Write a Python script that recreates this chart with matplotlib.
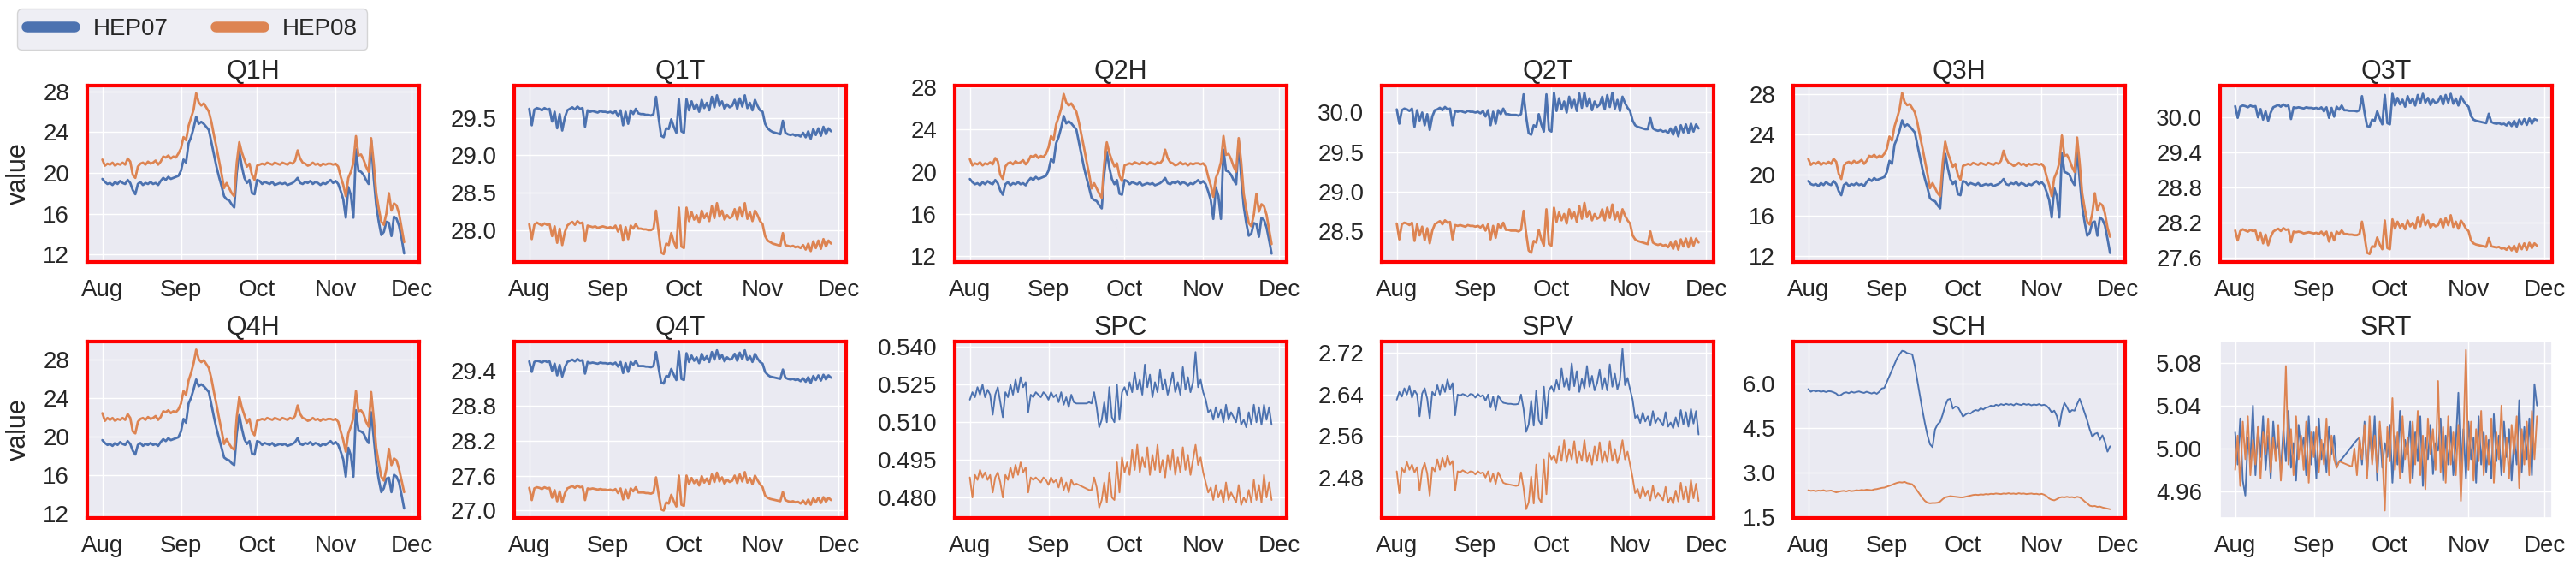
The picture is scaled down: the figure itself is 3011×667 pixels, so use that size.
import numpy as np
import pandas as pd
import matplotlib
matplotlib.use("Agg")
import matplotlib.pyplot as plt
import matplotlib.dates as mdates
from matplotlib.lines import Line2D
from matplotlib.ticker import FormatStrFormatter
import seaborn as sns

sns.set_theme(style="darkgrid")
plt.rcParams["font.family"] = ["Liberation Sans", "DejaVu Sans"]
plt.rcParams["xtick.major.size"] = 0
plt.rcParams["ytick.major.size"] = 0
plt.rcParams["xtick.major.pad"] = 15
plt.rcParams["ytick.major.pad"] = 15

# daily samples, Aug 1 .. Nov 28
days = pd.date_range("2021-08-01", "2021-11-28", freq="D")
series_names = ["HEP07", "HEP08"]
panel_names = ["Q1H", "Q1T", "Q2H", "Q2T", "Q3H", "Q3T",
               "Q4H", "Q4T", "SPC", "SPV", "SCH", "SRT"]

q1h_hep07 = [19.4, 19.1, 18.9, 19.0, 18.8, 19.1, 18.9, 19.2, 19.0, 18.9,
             19.3, 19.0, 18.3, 17.9, 18.9, 19.1, 18.8, 19.0, 18.9, 19.1,
             18.9, 19.0, 18.8, 19.2, 19.5, 19.3, 19.6, 19.4, 19.5, 19.6,
             19.7, 20.2, 21.3, 21.0, 22.9, 23.5, 24.4, 25.5, 24.8, 25.0,
             24.8, 24.5, 24.2, 23.0, 21.8, 20.6, 19.6, 18.7, 17.7, 17.4,
             17.3, 16.9, 16.6, 20.0, 22.1, 20.6, 19.5, 19.0, 19.3, 18.0,
             17.9, 19.3, 19.2, 18.9, 19.1, 19.0, 18.9, 19.1, 18.8, 18.9,
             19.0, 18.9, 19.0, 18.8, 18.9, 19.0, 19.2, 19.5, 19.0, 18.9,
             19.1, 19.0, 19.2, 18.9, 19.1, 19.0, 18.8, 19.0, 18.9, 19.1,
             19.3, 19.0, 19.2, 18.9, 18.2, 17.4, 15.6, 18.6, 17.8, 15.6,
             22.3, 20.2, 20.1, 19.8, 19.3, 18.9, 23.2, 19.5, 16.8, 15.2,
             13.9, 14.2, 15.2, 15.1, 13.8, 15.7, 15.5, 14.8, 13.6, 12.1]
q1h_hep08 = [21.3, 20.7, 20.9, 20.8, 21.0, 20.7, 20.9, 20.8, 21.0, 20.8,
             21.4, 21.1, 19.8, 19.5, 20.6, 20.9, 21.0, 20.8, 21.1, 20.9,
             21.0, 21.2, 20.8, 21.1, 21.6, 21.5, 21.7, 21.4, 21.6, 21.5,
             21.9, 22.4, 23.5, 23.2, 24.6, 25.4, 26.2, 27.8, 26.9, 26.6,
             26.8, 26.4, 26.0, 25.0, 23.7, 22.5, 21.2, 19.9, 18.5, 19.0,
             18.5, 18.0, 17.7, 21.0, 23.0, 22.0, 21.3, 20.6, 20.9, 19.8,
             19.3, 20.7, 20.8, 20.9, 20.8, 21.0, 20.9, 20.8, 21.0, 20.9,
             20.8, 21.0, 20.9, 20.8, 21.0, 20.9, 21.2, 22.2, 21.4, 21.0,
             20.9, 20.7, 20.8, 21.0, 20.8, 20.9, 20.7, 20.9, 20.8, 20.9,
             20.9, 20.8, 20.9, 20.6, 19.6, 18.8, 17.7, 19.5, 20.1, 21.0,
             23.6, 21.7, 21.8, 21.3, 20.6, 20.1, 23.4, 21.0, 18.0, 16.5,
             15.2, 14.9, 16.0, 18.0, 16.3, 17.0, 16.8, 16.0, 14.6, 13.2]

q1t_hep07 = [29.62, 29.40, 29.61, 29.63, 29.62, 29.60, 29.63, 29.61, 29.62, 29.45,
             29.58, 29.36, 29.55, 29.33, 29.50, 29.60, 29.62, 29.64, 29.61, 29.65,
             29.62, 29.63, 29.38, 29.60, 29.58, 29.59, 29.58, 29.57, 29.59, 29.58,
             29.58, 29.57, 29.58, 29.56, 29.59, 29.52, 29.60, 29.40, 29.58, 29.42,
             29.60, 29.55, 29.62, 29.56, 29.55, 29.55, 29.54, 29.54, 29.53, 29.55,
             29.78, 29.50, 29.26, 29.24, 29.36, 29.35, 29.48, 29.38, 29.30, 29.75,
             29.32, 29.30, 29.75, 29.60, 29.72, 29.62, 29.68, 29.58, 29.74, 29.63,
             29.70, 29.60, 29.78, 29.64, 29.80, 29.66, 29.72, 29.62, 29.68, 29.64,
             29.66, 29.74, 29.62, 29.76, 29.65, 29.80, 29.63, 29.70, 29.60, 29.74,
             29.66, 29.60, 29.58, 29.42, 29.36, 29.33, 29.31, 29.30, 29.29, 29.28,
             29.46, 29.30, 29.28, 29.27, 29.28, 29.26, 29.27, 29.25, 29.30, 29.24,
             29.32, 29.22, 29.35, 29.27, 29.36, 29.26, 29.38, 29.28, 29.36, 29.32]
q1t_hep08 = [28.08, 27.88, 28.07, 28.10, 28.08, 28.06, 28.09, 28.07, 28.08, 27.92,
             28.05, 27.83, 28.02, 27.80, 27.97, 28.06, 28.09, 28.11, 28.07, 28.12,
             28.09, 28.10, 27.85, 28.06, 28.05, 28.04, 28.05, 28.03, 28.04, 28.05,
             28.04, 28.03, 28.04, 28.02, 28.06, 27.98, 28.06, 27.86, 28.04, 27.88,
             28.06, 28.02, 28.08, 28.02, 28.02, 28.01, 28.01, 28.00, 28.00, 28.02,
             28.26, 27.98, 27.70, 27.68, 27.82, 27.80, 27.96, 27.84, 27.76, 28.30,
             27.78, 27.76, 28.30, 28.12, 28.24, 28.14, 28.20, 28.10, 28.26, 28.16,
             28.22, 28.12, 28.32, 28.16, 28.36, 28.18, 28.26, 28.14, 28.20, 28.16,
             28.18, 28.28, 28.14, 28.30, 28.18, 28.36, 28.15, 28.24, 28.12, 28.26,
             28.20, 28.12, 28.08, 27.92, 27.86, 27.84, 27.82, 27.81, 27.80, 27.79,
             27.96, 27.80, 27.79, 27.78, 27.79, 27.77, 27.78, 27.76, 27.80, 27.74,
             27.82, 27.72, 27.85, 27.76, 27.86, 27.75, 27.88, 27.78, 27.86, 27.82]

q2h_hep07 = [19.3, 19.0, 18.8, 18.9, 18.7, 19.0, 18.8, 19.1, 18.9, 18.8,
             19.2, 18.9, 18.2, 17.8, 18.8, 19.0, 18.7, 18.9, 18.8, 19.0,
             18.8, 18.9, 18.7, 19.1, 19.4, 19.2, 19.5, 19.3, 19.4, 19.5,
             19.6, 20.1, 21.2, 20.9, 22.7, 23.3, 24.2, 25.3, 24.6, 24.8,
             24.6, 24.3, 24.0, 22.8, 21.6, 20.4, 19.4, 18.5, 17.5, 17.3,
             17.2, 16.8, 16.5, 19.8, 21.9, 20.4, 19.3, 18.8, 19.2, 17.9,
             17.8, 19.2, 19.1, 18.8, 19.0, 18.9, 18.8, 19.0, 18.7, 18.8,
             18.9, 18.8, 18.9, 18.7, 18.8, 18.9, 19.1, 19.4, 18.9, 18.8,
             19.0, 18.9, 19.1, 18.8, 19.0, 18.9, 18.7, 18.9, 18.8, 19.0,
             19.2, 18.9, 19.1, 18.8, 18.1, 17.3, 15.5, 18.5, 17.7, 15.5,
             22.1, 20.1, 20.0, 19.7, 19.2, 18.8, 22.9, 19.4, 16.7, 15.1,
             13.9, 14.1, 15.1, 15.0, 13.8, 15.6, 15.4, 14.7, 13.5, 12.2]
q2h_hep08 = [21.2, 20.6, 20.8, 20.7, 20.9, 20.6, 20.8, 20.7, 20.9, 20.7,
             21.3, 21.0, 19.7, 19.3, 20.5, 20.8, 20.9, 20.7, 21.0, 20.8,
             20.9, 21.1, 20.7, 21.0, 21.5, 21.4, 21.6, 21.3, 21.5, 21.4,
             21.7, 22.3, 23.4, 23.0, 24.5, 25.2, 26.0, 27.4, 26.6, 26.3,
             26.5, 26.1, 25.7, 24.7, 23.5, 22.3, 21.0, 19.8, 18.4, 18.9,
             18.4, 17.9, 17.5, 20.8, 22.8, 21.8, 21.1, 20.5, 20.8, 19.6,
             19.1, 20.6, 20.7, 20.8, 20.7, 20.9, 20.8, 20.7, 20.9, 20.8,
             20.7, 20.9, 20.8, 20.7, 20.9, 20.8, 21.1, 22.1, 21.3, 20.9,
             20.8, 20.6, 20.7, 20.9, 20.7, 20.8, 20.6, 20.8, 20.7, 20.8,
             20.8, 20.7, 20.8, 20.5, 19.5, 18.7, 17.6, 19.4, 20.0, 20.9,
             23.4, 21.6, 21.7, 21.2, 20.5, 20.0, 23.2, 20.9, 17.9, 16.4,
             15.1, 14.8, 15.9, 17.9, 16.2, 16.9, 16.7, 15.9, 14.5, 13.1]

q2t_hep07 = [30.04, 29.86, 30.03, 30.05, 30.04, 30.02, 30.05, 29.82, 30.03, 29.90,
             30.00, 29.84, 29.98, 29.78, 29.95, 30.03, 30.04, 30.06, 30.03, 30.07,
             30.04, 30.05, 29.84, 30.02, 30.01, 30.02, 30.01, 30.00, 30.02, 30.01,
             30.01, 30.00, 30.01, 29.99, 30.02, 29.95, 30.03, 29.84, 30.01, 29.86,
             30.03, 29.98, 30.05, 29.98, 29.98, 29.97, 29.97, 29.97, 29.96, 29.98,
             30.23, 29.95, 29.74, 29.72, 29.84, 29.82, 29.98, 29.85, 29.76, 30.23,
             29.78, 29.76, 30.25, 30.02, 30.18, 30.04, 30.14, 30.00, 30.20, 30.06,
             30.16, 30.02, 30.24, 30.06, 30.25, 30.08, 30.18, 30.03, 30.14, 30.07,
             30.10, 30.20, 30.04, 30.22, 30.07, 30.25, 30.05, 30.16, 30.02, 30.20,
             30.12, 30.06, 30.02, 29.90, 29.84, 29.82, 29.81, 29.80, 29.79, 29.79,
             29.93, 29.80, 29.78, 29.77, 29.78, 29.76, 29.77, 29.74, 29.80, 29.72,
             29.82, 29.70, 29.84, 29.75, 29.85, 29.74, 29.86, 29.76, 29.85, 29.80]
q2t_hep08 = [28.60, 28.40, 28.59, 28.61, 28.60, 28.58, 28.61, 28.38, 28.59, 28.45,
             28.56, 28.39, 28.54, 28.35, 28.51, 28.59, 28.61, 28.63, 28.59, 28.64,
             28.61, 28.62, 28.40, 28.58, 28.57, 28.58, 28.57, 28.56, 28.58, 28.57,
             28.57, 28.56, 28.57, 28.55, 28.58, 28.51, 28.59, 28.40, 28.57, 28.42,
             28.59, 28.54, 28.61, 28.52, 28.52, 28.51, 28.51, 28.51, 28.50, 28.52,
             28.76, 28.48, 28.26, 28.23, 28.38, 28.36, 28.52, 28.40, 28.32, 28.78,
             28.34, 28.32, 28.80, 28.62, 28.74, 28.64, 28.72, 28.60, 28.78, 28.66,
             28.74, 28.62, 28.82, 28.66, 28.86, 28.68, 28.76, 28.64, 28.72, 28.66,
             28.68, 28.78, 28.64, 28.80, 28.67, 28.84, 28.65, 28.74, 28.62, 28.78,
             28.70, 28.64, 28.60, 28.45, 28.40, 28.38, 28.37, 28.36, 28.35, 28.34,
             28.50, 28.36, 28.34, 28.33, 28.34, 28.32, 28.33, 28.30, 28.36, 28.28,
             28.38, 28.27, 28.40, 28.31, 28.41, 28.30, 28.42, 28.32, 28.41, 28.36]

q3h_hep07 = [19.4, 19.1, 19.0, 19.1, 18.9, 19.2, 19.0, 19.3, 19.1, 19.0,
             19.4, 19.1, 18.4, 18.0, 19.0, 19.2, 18.9, 19.1, 19.0, 19.2,
             19.0, 19.1, 18.9, 19.3, 19.6, 19.4, 19.7, 19.5, 19.6, 19.7,
             19.8, 20.3, 21.4, 21.1, 23.0, 23.6, 24.4, 25.4, 24.8, 25.0,
             24.8, 24.5, 24.2, 23.0, 21.8, 20.6, 19.6, 18.7, 17.7, 17.5,
             17.4, 17.0, 16.7, 20.1, 22.1, 20.7, 19.6, 19.1, 19.4, 18.1,
             18.0, 19.4, 19.3, 19.0, 19.2, 19.1, 19.0, 19.2, 18.9, 19.0,
             19.1, 19.0, 19.1, 18.9, 19.0, 19.1, 19.3, 19.6, 19.1, 19.0,
             19.2, 19.1, 19.3, 19.0, 19.2, 19.1, 18.9, 19.1, 19.0, 19.2,
             19.4, 19.1, 19.3, 19.0, 18.3, 17.5, 15.8, 18.7, 17.9, 15.8,
             22.2, 20.3, 20.2, 20.0, 19.4, 19.0, 22.4, 19.6, 16.9, 15.3,
             14.0, 14.3, 15.3, 15.4, 14.0, 15.8, 15.6, 15.0, 13.7, 12.3]
q3h_hep08 = [21.6, 21.0, 21.2, 21.1, 21.3, 21.0, 21.2, 21.1, 21.3, 21.1,
             21.6, 21.3, 20.1, 19.6, 20.9, 21.2, 21.3, 21.1, 21.4, 21.2,
             21.3, 21.5, 21.1, 21.4, 21.9, 21.8, 22.0, 21.7, 21.9, 21.8,
             22.1, 22.6, 23.8, 23.4, 24.8, 25.6, 26.5, 28.1, 27.2, 26.9,
             27.0, 26.6, 26.2, 25.2, 23.9, 22.7, 21.4, 20.1, 18.7, 19.2,
             18.7, 18.2, 17.9, 21.2, 23.3, 22.2, 21.5, 20.8, 21.1, 20.0,
             19.5, 20.9, 21.0, 21.1, 21.0, 21.2, 21.1, 21.0, 21.2, 21.1,
             21.0, 21.2, 21.1, 21.0, 21.2, 21.1, 21.4, 22.4, 21.6, 21.2,
             21.1, 20.9, 21.0, 21.2, 21.0, 21.1, 20.9, 21.1, 21.0, 21.1,
             21.1, 21.0, 21.1, 20.8, 19.8, 19.0, 17.9, 19.7, 20.3, 21.2,
             23.9, 21.9, 22.0, 21.5, 20.8, 20.3, 23.7, 21.2, 18.2, 16.7,
             15.4, 15.1, 16.2, 18.2, 16.5, 17.2, 17.0, 16.2, 14.8, 13.9]

q3t_hep07 = [30.19, 29.99, 30.18, 30.20, 30.19, 30.17, 30.20, 30.18, 30.19, 30.00,
             30.14, 29.96, 30.10, 29.94, 30.08, 30.17, 30.19, 30.21, 30.18, 30.22,
             30.19, 30.20, 29.97, 30.17, 30.16, 30.17, 30.16, 30.15, 30.17, 30.16,
             30.16, 30.15, 30.16, 30.14, 30.17, 30.10, 30.17, 29.99, 30.16, 30.01,
             30.18, 30.13, 30.20, 30.12, 30.12, 30.11, 30.11, 30.11, 30.10, 30.12,
             30.36, 30.08, 29.85, 29.84, 29.96, 29.94, 30.10, 29.98, 29.88, 30.38,
             29.90, 29.88, 30.40, 30.20, 30.33, 30.22, 30.30, 30.18, 30.36, 30.24,
             30.32, 30.20, 30.38, 30.24, 30.40, 30.25, 30.33, 30.21, 30.30, 30.24,
             30.27, 30.36, 30.22, 30.38, 30.25, 30.40, 30.23, 30.32, 30.20, 30.36,
             30.28, 30.22, 30.18, 30.02, 29.96, 29.94, 29.93, 29.92, 29.91, 29.90,
             30.06, 29.92, 29.90, 29.89, 29.90, 29.88, 29.89, 29.86, 29.92, 29.85,
             29.94, 29.84, 29.96, 29.88, 29.97, 29.87, 29.98, 29.89, 29.97, 29.95]
q3t_hep08 = [28.07, 27.90, 28.06, 28.09, 28.07, 28.05, 28.08, 28.06, 28.07, 27.90,
             28.03, 27.85, 28.00, 27.82, 27.96, 28.05, 28.08, 28.10, 28.06, 28.11,
             28.08, 28.09, 27.87, 28.05, 28.04, 28.05, 28.04, 28.02, 28.03, 28.04,
             28.03, 28.02, 28.03, 28.01, 28.05, 27.98, 28.05, 27.88, 28.03, 27.90,
             28.05, 28.01, 28.07, 28.01, 28.01, 28.00, 28.00, 27.99, 27.99, 28.01,
             28.22, 27.97, 27.69, 27.67, 27.80, 27.79, 27.95, 27.83, 27.75, 28.24,
             27.77, 27.75, 28.26, 28.10, 28.22, 28.12, 28.18, 28.09, 28.24, 28.14,
             28.20, 28.10, 28.30, 28.14, 28.34, 28.16, 28.24, 28.12, 28.18, 28.14,
             28.16, 28.26, 28.12, 28.28, 28.16, 28.33, 28.13, 28.22, 28.10, 28.24,
             28.18, 28.10, 28.06, 27.90, 27.85, 27.83, 27.82, 27.81, 27.80, 27.79,
             27.94, 27.80, 27.79, 27.78, 27.79, 27.76, 27.77, 27.74, 27.80, 27.73,
             27.81, 27.71, 27.84, 27.75, 27.85, 27.74, 27.86, 27.77, 27.85, 27.81]

q4h_hep07 = [19.6, 19.3, 19.1, 19.2, 19.0, 19.3, 19.1, 19.4, 19.2, 19.1,
             19.5, 19.2, 18.5, 18.1, 19.1, 19.3, 19.0, 19.2, 19.1, 19.3,
             19.1, 19.2, 19.0, 19.4, 19.7, 19.5, 19.8, 19.6, 19.7, 19.8,
             19.9, 20.5, 21.8, 21.4, 23.4, 24.0, 24.9, 25.9, 25.2, 25.4,
             25.2, 24.9, 24.6, 23.3, 22.0, 20.8, 19.8, 18.8, 17.8, 17.6,
             17.5, 17.2, 17.0, 20.3, 22.2, 20.8, 19.7, 19.2, 19.5, 18.2,
             18.1, 19.5, 19.4, 19.1, 19.3, 19.2, 19.1, 19.3, 19.0, 19.1,
             19.2, 19.1, 19.2, 19.0, 19.1, 19.2, 19.4, 19.8, 19.2, 19.1,
             19.3, 19.2, 19.4, 19.1, 19.3, 19.2, 19.0, 19.2, 19.1, 19.3,
             19.5, 19.2, 19.4, 19.1, 18.4, 17.6, 15.8, 18.8, 18.0, 15.8,
             22.7, 20.6, 20.5, 20.3, 19.7, 19.3, 22.5, 19.9, 17.2, 15.5,
             14.2, 14.6, 15.6, 15.7, 14.2, 16.0, 15.8, 15.2, 13.9, 12.5]
q4h_hep08 = [22.4, 21.6, 21.9, 21.7, 21.9, 21.6, 21.8, 21.7, 21.9, 21.7,
             22.3, 21.9, 20.5, 20.3, 21.5, 21.8, 21.9, 21.7, 22.0, 21.8,
             21.9, 22.1, 21.7, 22.0, 22.6, 22.5, 22.7, 22.4, 22.6, 22.5,
             22.8, 23.4, 24.7, 24.3, 25.8, 26.6, 27.6, 29.0, 28.0, 27.7,
             27.9, 27.5, 27.1, 26.0, 24.6, 23.3, 21.9, 20.6, 19.2, 19.7,
             19.2, 18.8, 18.6, 22.0, 24.1, 23.0, 22.2, 21.4, 21.8, 20.5,
             20.1, 21.6, 21.7, 21.8, 21.7, 21.9, 21.8, 21.7, 21.9, 21.8,
             21.7, 21.9, 21.8, 21.7, 21.9, 21.8, 22.1, 23.2, 22.3, 21.9,
             21.8, 21.6, 21.7, 21.9, 21.7, 21.8, 21.6, 21.8, 21.7, 21.8,
             21.8, 21.7, 21.8, 21.5, 20.5, 19.6, 18.4, 20.3, 21.0, 21.9,
             24.7, 22.6, 22.7, 22.3, 21.5, 21.0, 24.6, 21.9, 18.8, 17.2,
             15.8, 15.4, 16.6, 18.7, 17.0, 17.7, 17.5, 16.6, 15.4, 14.2]

q4t_hep07 = [29.56, 29.38, 29.55, 29.57, 29.56, 29.54, 29.57, 29.55, 29.56, 29.40,
             29.52, 29.32, 29.50, 29.30, 29.45, 29.55, 29.57, 29.59, 29.56, 29.60,
             29.57, 29.58, 29.35, 29.55, 29.53, 29.54, 29.53, 29.52, 29.54, 29.53,
             29.53, 29.52, 29.53, 29.51, 29.54, 29.47, 29.55, 29.36, 29.53, 29.38,
             29.55, 29.50, 29.57, 29.48, 29.48, 29.48, 29.47, 29.47, 29.46, 29.48,
             29.72, 29.45, 29.20, 29.18, 29.31, 29.30, 29.43, 29.33, 29.24, 29.73,
             29.26, 29.24, 29.70, 29.55, 29.66, 29.57, 29.63, 29.53, 29.69, 29.58,
             29.65, 29.55, 29.72, 29.59, 29.75, 29.60, 29.67, 29.56, 29.63, 29.59,
             29.61, 29.69, 29.57, 29.71, 29.60, 29.75, 29.58, 29.65, 29.55, 29.69,
             29.61, 29.55, 29.52, 29.38, 29.33, 29.30, 29.29, 29.28, 29.27, 29.26,
             29.42, 29.28, 29.26, 29.25, 29.26, 29.24, 29.25, 29.22, 29.27, 29.21,
             29.29, 29.19, 29.31, 29.24, 29.32, 29.23, 29.33, 29.25, 29.32, 29.28]
q4t_hep08 = [27.39, 27.18, 27.38, 27.40, 27.39, 27.37, 27.40, 27.38, 27.39, 27.22,
             27.35, 27.16, 27.33, 27.14, 27.29, 27.38, 27.40, 27.42, 27.39, 27.43,
             27.40, 27.41, 27.18, 27.38, 27.37, 27.38, 27.37, 27.36, 27.37, 27.36,
             27.36, 27.35, 27.36, 27.34, 27.37, 27.30, 27.38, 27.19, 27.36, 27.21,
             27.38, 27.33, 27.40, 27.31, 27.31, 27.31, 27.30, 27.30, 27.29, 27.31,
             27.57, 27.28, 27.02, 27.00, 27.14, 27.12, 27.27, 27.16, 27.07, 27.60,
             27.10, 27.08, 27.60, 27.45, 27.56, 27.47, 27.53, 27.43, 27.59, 27.48,
             27.55, 27.45, 27.62, 27.49, 27.65, 27.50, 27.57, 27.46, 27.53, 27.49,
             27.51, 27.60, 27.47, 27.62, 27.50, 27.66, 27.48, 27.56, 27.45, 27.60,
             27.52, 27.45, 27.40, 27.26, 27.22, 27.20, 27.19, 27.18, 27.17, 27.16,
             27.32, 27.18, 27.16, 27.15, 27.16, 27.14, 27.15, 27.12, 27.17, 27.11,
             27.19, 27.10, 27.21, 27.14, 27.22, 27.13, 27.23, 27.15, 27.22, 27.18]

spc_hep07 = [0.519, 0.522, 0.520, 0.524, 0.521, 0.525, 0.520, 0.523, 0.521, 0.513,
             0.521, 0.524, 0.518, 0.512, 0.522, 0.520, 0.525, 0.521, 0.527, 0.522,
             0.528, 0.524, 0.526, 0.514, 0.521, 0.520, 0.522, 0.521, 0.520, 0.522,
             0.521, 0.519, 0.522, 0.520, 0.521, 0.518, 0.522, 0.517, 0.520, 0.516,
             0.521, 0.518, 0.5175, 0.5175, 0.5175, 0.5175, 0.5175, 0.518, 0.5175, 0.522,
             0.516, 0.508, 0.511, 0.518, 0.510, 0.524, 0.512, 0.510, 0.525, 0.511,
             0.522, 0.524, 0.521, 0.526, 0.522, 0.530, 0.523, 0.527, 0.521, 0.533,
             0.524, 0.529, 0.520, 0.526, 0.522, 0.531, 0.523, 0.527, 0.521, 0.525,
             0.530, 0.522, 0.526, 0.521, 0.532, 0.523, 0.528, 0.522, 0.526, 0.538,
             0.524, 0.527, 0.522, 0.519, 0.514, 0.515, 0.511, 0.516, 0.512, 0.515,
             0.510, 0.517, 0.511, 0.514, 0.512, 0.510, 0.516, 0.509, 0.511, 0.508,
             0.514, 0.509, 0.517, 0.510, 0.516, 0.509, 0.517, 0.511, 0.516, 0.509]
spc_hep08 = [0.488, 0.480, 0.489, 0.487, 0.491, 0.488, 0.490, 0.487, 0.489, 0.482,
             0.488, 0.490, 0.486, 0.480, 0.489, 0.487, 0.492, 0.488, 0.493, 0.489,
             0.494, 0.490, 0.492, 0.482, 0.488, 0.487, 0.488, 0.487, 0.486, 0.488,
             0.487, 0.485, 0.488, 0.486, 0.487, 0.484, 0.488, 0.483, 0.486, 0.482,
             0.487, 0.485, 0.4855, 0.485, 0.4845, 0.484, 0.4835, 0.483, 0.483, 0.488,
             0.484, 0.476, 0.479, 0.486, 0.478, 0.490, 0.480, 0.479, 0.494, 0.482,
             0.496, 0.490, 0.494, 0.489, 0.499, 0.491, 0.501, 0.490, 0.496, 0.492,
             0.500, 0.489, 0.497, 0.491, 0.501, 0.490, 0.495, 0.488, 0.497, 0.491,
             0.499, 0.489, 0.496, 0.490, 0.500, 0.491, 0.497, 0.489, 0.495, 0.501,
             0.493, 0.496, 0.490, 0.486, 0.482, 0.484, 0.479, 0.485, 0.480, 0.483,
             0.478, 0.486, 0.479, 0.482, 0.480, 0.478, 0.485, 0.477, 0.480, 0.478,
             0.483, 0.478, 0.487, 0.479, 0.485, 0.478, 0.489, 0.480, 0.486, 0.479]

spv_hep07 = [2.630, 2.645, 2.636, 2.652, 2.640, 2.656, 2.634, 2.648, 2.640, 2.598,
             2.642, 2.652, 2.632, 2.593, 2.645, 2.638, 2.658, 2.640, 2.660, 2.645,
             2.669, 2.650, 2.662, 2.600, 2.640, 2.638, 2.641, 2.639, 2.636, 2.641,
             2.640, 2.634, 2.641, 2.636, 2.639, 2.628, 2.640, 2.615, 2.636, 2.610,
             2.638, 2.630, 2.624, 2.623, 2.622, 2.622, 2.621, 2.621, 2.622, 2.640,
             2.612, 2.568, 2.582, 2.628, 2.580, 2.648, 2.590, 2.582, 2.655, 2.595,
             2.648, 2.656, 2.645, 2.668, 2.650, 2.690, 2.655, 2.672, 2.648, 2.700,
             2.656, 2.685, 2.645, 2.670, 2.652, 2.695, 2.655, 2.676, 2.648, 2.662,
             2.688, 2.650, 2.672, 2.648, 2.698, 2.655, 2.680, 2.650, 2.668, 2.728,
             2.658, 2.672, 2.650, 2.630, 2.595, 2.600, 2.585, 2.605, 2.588, 2.598,
             2.580, 2.608, 2.585, 2.595, 2.588, 2.580, 2.606, 2.578, 2.586, 2.575,
             2.596, 2.578, 2.610, 2.582, 2.606, 2.578, 2.612, 2.584, 2.608, 2.563]
spv_hep08 = [2.492, 2.450, 2.498, 2.490, 2.510, 2.495, 2.505, 2.490, 2.500, 2.455,
             2.494, 2.508, 2.488, 2.445, 2.500, 2.492, 2.515, 2.495, 2.518, 2.500,
             2.522, 2.505, 2.512, 2.455, 2.492, 2.490, 2.494, 2.491, 2.488, 2.492,
             2.491, 2.486, 2.492, 2.488, 2.490, 2.480, 2.492, 2.472, 2.488, 2.468,
             2.490, 2.480, 2.470, 2.468, 2.467, 2.466, 2.465, 2.464, 2.465, 2.490,
             2.460, 2.419, 2.432, 2.482, 2.430, 2.505, 2.440, 2.432, 2.515, 2.448,
             2.528, 2.515, 2.522, 2.508, 2.540, 2.512, 2.552, 2.510, 2.535, 2.515,
             2.550, 2.508, 2.530, 2.512, 2.552, 2.510, 2.528, 2.505, 2.540, 2.512,
             2.548, 2.508, 2.530, 2.510, 2.550, 2.512, 2.535, 2.508, 2.525, 2.552,
             2.515, 2.530, 2.505, 2.480, 2.450, 2.458, 2.440, 2.462, 2.445, 2.455,
             2.436, 2.465, 2.440, 2.450, 2.444, 2.436, 2.462, 2.432, 2.442, 2.430,
             2.455, 2.434, 2.470, 2.438, 2.462, 2.432, 2.475, 2.440, 2.468, 2.435]

sch_hep07 = [5.81, 5.72, 5.76, 5.73, 5.75, 5.72, 5.74, 5.71, 5.74, 5.73,
             5.70, 5.66, 5.58, 5.62, 5.68, 5.70, 5.67, 5.72, 5.69, 5.71,
             5.73, 5.70, 5.68, 5.72, 5.69, 5.66, 5.70, 5.65, 5.72, 5.83,
             5.85, 6.05, 6.25, 6.45, 6.65, 6.85, 6.98, 7.10, 7.08, 7.02,
             7.00, 6.98, 6.60, 6.10, 5.60, 5.10, 4.65, 4.25, 3.95, 3.85,
             4.45, 4.62, 4.70, 4.95, 5.25, 5.45, 5.48, 5.15, 5.22, 5.20,
             5.05, 4.88, 4.95, 5.00, 4.98, 5.06, 5.10, 5.08, 5.16, 5.12,
             5.18, 5.20, 5.25, 5.22, 5.28, 5.25, 5.30, 5.27, 5.31, 5.28,
             5.30, 5.26, 5.32, 5.29, 5.27, 5.31, 5.28, 5.30, 5.26, 5.29,
             5.27, 5.30, 5.26, 5.28, 5.24, 5.15, 5.02, 5.08, 4.90, 4.55,
             5.05, 5.34, 5.20, 5.02, 5.10, 5.08, 5.30, 5.48, 5.25, 5.00,
             4.75, 4.45, 4.20, 4.30, 4.33, 4.10, 4.25, 4.03, 3.70, 3.88]
sch_hep08 = [2.40, 2.38, 2.39, 2.37, 2.39, 2.38, 2.40, 2.37, 2.38, 2.39,
             2.36, 2.33, 2.35, 2.37, 2.38, 2.36, 2.39, 2.37, 2.38, 2.40,
             2.39, 2.41, 2.40, 2.42, 2.41, 2.40, 2.43, 2.44, 2.46, 2.48,
             2.49, 2.52, 2.55, 2.58, 2.62, 2.65, 2.67, 2.66, 2.68, 2.64,
             2.62, 2.60, 2.50, 2.38, 2.26, 2.14, 2.04, 1.98, 1.96, 1.97,
             1.97, 1.98, 2.02, 2.10, 2.16, 2.18, 2.20, 2.19, 2.18, 2.17,
             2.16, 2.16, 2.18, 2.20, 2.22, 2.24, 2.25, 2.24, 2.26, 2.25,
             2.27, 2.26, 2.28, 2.27, 2.29, 2.28, 2.27, 2.29, 2.28, 2.30,
             2.28, 2.29, 2.27, 2.30, 2.28, 2.29, 2.27, 2.28, 2.29, 2.27,
             2.28, 2.26, 2.28, 2.25, 2.20, 2.12, 2.08, 2.06, 2.10, 2.15,
             2.17, 2.16, 2.18, 2.16, 2.17, 2.15, 2.18, 2.16, 2.10, 2.02,
             1.96, 1.88, 1.86, 1.87, 1.84, 1.85, 1.82, 1.80, 1.78, 1.76]

srt_hep07 = [5.015, 4.985, 5.028, 4.970, 4.956, 5.010, 4.990, 5.040, 4.975, 5.020,
             4.992, 5.030, 4.980, 5.012, 4.972, 5.025, 4.995, 5.008, 4.978, 5.018,
             4.988, 5.035, 4.982, 5.005, 4.970, 5.022, 4.998, 5.010, 4.975, 5.030,
             4.985, 5.015, 4.972, 5.028, 4.990, 5.005, 4.978, 5.020, 4.995, 5.012,
             4.982, 4.988, 4.990, 4.993, 4.996, 4.999, 5.002, 5.005, 5.008, 5.010,
             4.985, 5.025, 4.975, 5.015, 4.990, 5.030, 4.970, 5.018, 4.982, 5.005,
             4.992, 5.022, 4.968, 5.012, 4.985, 5.035, 4.978, 5.008, 4.995, 5.025,
             4.972, 5.015, 4.988, 5.030, 4.965, 5.010, 4.990, 5.022, 4.976, 5.005,
             4.998, 5.028, 4.970, 5.012, 4.985, 5.020, 4.975, 5.005, 5.052, 4.980,
             5.018, 4.972, 5.025, 4.990, 5.010, 4.968, 5.030, 4.985, 5.015, 4.978,
             5.008, 4.972, 5.032, 4.988, 5.012, 4.975, 5.025, 4.992, 5.018, 4.970,
             5.010, 4.985, 5.045, 4.978, 5.020, 4.990, 5.028, 4.975, 5.060, 5.040]
srt_hep08 = [4.980, 5.012, 4.965, 5.025, 4.990, 5.030, 4.975, 5.008, 4.985, 5.020,
             4.972, 5.015, 4.995, 5.028, 4.978, 5.010, 4.988, 5.022, 4.970, 5.005,
             5.077, 4.985, 5.018, 4.975, 5.030, 4.990, 5.012, 4.980, 5.025, 4.968,
             5.015, 4.992, 5.020, 4.978, 5.008, 4.985, 5.028, 4.975, 5.012, 4.990,
             4.982, 4.988, 4.987, 4.986, 4.985, 4.984, 4.983, 5.000, 4.975, 5.010,
             4.990, 5.022, 4.972, 5.030, 4.985, 5.012, 4.978, 5.025, 4.995, 4.942,
             5.020, 4.988, 5.047, 4.980, 5.015, 4.972, 5.030, 4.990, 5.010, 4.968,
             5.025, 4.985, 5.035, 4.975, 5.012, 4.962, 5.028, 4.995, 5.018, 4.980,
             5.063, 4.978, 5.020, 4.968, 5.030, 4.985, 5.015, 4.975, 5.022, 4.951,
             5.010, 5.092, 4.980, 5.025, 4.970, 5.018, 4.988, 5.035, 4.975, 5.012,
             4.985, 5.028, 4.968, 5.015, 4.990, 5.040, 4.978, 5.010, 4.972, 5.022,
             4.995, 5.030, 4.963, 5.018, 4.985, 5.025, 4.975, 5.035, 4.990, 5.030]

panel_data = {
    "Q1H": (q1h_hep07, q1h_hep08), "Q1T": (q1t_hep07, q1t_hep08),
    "Q2H": (q2h_hep07, q2h_hep08), "Q2T": (q2t_hep07, q2t_hep08),
    "Q3H": (q3h_hep07, q3h_hep08), "Q3T": (q3t_hep07, q3t_hep08),
    "Q4H": (q4h_hep07, q4h_hep08), "Q4T": (q4t_hep07, q4t_hep08),
    "SPC": (spc_hep07, spc_hep08), "SPV": (spv_hep07, spv_hep08),
    "SCH": (sch_hep07, sch_hep08), "SRT": (srt_hep07, srt_hep08),
}

# y limits / ticks / tick format per panel
y_setup = {
    "Q1H": ((11.3, 28.55), [12, 16, 20, 24, 28], "%d"),
    "Q1T": ((27.58, 29.93), [28.0, 28.5, 29.0, 29.5], "%.1f"),
    "Q2H": ((11.44, 28.2), [12, 16, 20, 24, 28], "%d"),
    "Q2T": ((28.12, 30.34), [28.5, 29.0, 29.5, 30.0], "%.1f"),
    "Q3H": ((11.45, 28.83), [12, 16, 20, 24, 28], "%d"),
    "Q3T": ((27.54, 30.54), [27.6, 28.2, 28.8, 29.4, 30.0], "%.1f"),
    "Q4H": ((11.56, 29.84), [12, 16, 20, 24, 28], "%d"),
    "Q4T": ((26.88, 29.9), [27.0, 27.6, 28.2, 28.8, 29.4], "%.1f"),
    "SPC": ((0.472, 0.5422), [0.480, 0.495, 0.510, 0.525, 0.540], "%.3f"),
    "SPV": ((2.403, 2.742), [2.48, 2.56, 2.64, 2.72], "%.2f"),
    "SCH": ((1.48, 7.41), [1.5, 3.0, 4.5, 6.0], "%.1f"),
    "SRT": ((4.9355, 5.0998), [4.96, 5.00, 5.04, 5.08], "%.2f"),
}

colors = sns.color_palette("deep")[:2]
W, H = 3011, 667
col_left = [102, 601, 1116, 1615, 2096, 2595]
row_top = [100, 399]
ax_w, ax_h = 388, 205.5

fig = plt.figure(figsize=(W / 100, H / 100), dpi=100)

for i, name in enumerate(panel_names):
    r, c = divmod(i, 6)
    ax = fig.add_axes([col_left[c] / W, 1 - (row_top[r] + ax_h) / H,
                       ax_w / W, ax_h / H])
    lw = 2.0 if name.startswith("Q") else 1.4
    for vals, col in zip(panel_data[name], colors):
        ax.plot(days[:len(vals)], vals, color=col, lw=lw)
    ylim, yt, fmt = y_setup[name]
    ax.set_ylim(*ylim)
    ax.set_yticks(yt)
    ax.yaxis.set_major_formatter(FormatStrFormatter(fmt))
    ax.xaxis.set_major_locator(mdates.MonthLocator())
    ax.xaxis.set_major_formatter(mdates.DateFormatter("%b"))
    ax.tick_params(labelsize=20)
    ax.set_title(name, fontsize=22)
    if c == 0:
        ax.set_ylabel("value", fontsize=22, labelpad=10)
    if name != "SRT":
        for sp in ax.spines.values():
            sp.set_visible(True)
            sp.set_color("red")
            sp.set_linewidth(3)
            sp.set_zorder(5)

handles = [Line2D([0], [0], color=col, lw=9, solid_capstyle="round") for col in colors]
fig.legend(handles, series_names, loc="upper left", ncol=2, fontsize=20,
           bbox_to_anchor=(20 / W, 1 - 10 / H), borderaxespad=0)

fig.savefig("out.png", dpi=100)
